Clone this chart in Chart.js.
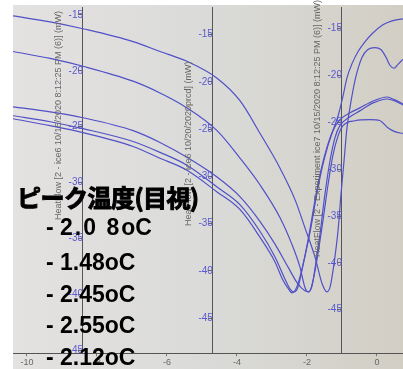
<!DOCTYPE html>
<html lang="ja">
<head>
<meta charset="UTF-8">
<title>HeatFlow</title>
<script src="https://cdn.jsdelivr.net/npm/chart.js"></script>
<style>
  html, body { margin: 0; padding: 0; background: #fff; }
  .wrap { position: relative; width: 403px; height: 369px; overflow: hidden; }
  #dsc { position: absolute; left: 0; top: 0; }
  .note { position: absolute; color: #000; white-space: nowrap; line-height: 1; }
  .head { left: 17px; top: 179px; font: 700 24px "Noto Sans CJK JP", sans-serif; letter-spacing: -0.5px; -webkit-text-stroke: 1px #000; }
  .temp { left: 46px; font: 700 23px "Liberation Sans", Arial, sans-serif; }
  .wide { letter-spacing: 2px; }
</style>
</head>
<body>
<div class="wrap">
  <canvas id="dsc" width="403" height="369"></canvas>
  <div class="note head">ピーク温度(目視)</div>
  <div class="note temp" style="top:214px">- <span class="wide">2.0 8</span>oC</div>
  <div class="note temp" style="top:249px">- 1.48oC</div>
  <div class="note temp" style="top:281px">- 2.45oC</div>
  <div class="note temp" style="top:312px">- 2.55oC</div>
  <div class="note temp" style="top:344px">- 2.12oC</div>
</div>

<script>
  // temperature (oC) and heat flow (mW, read on the right axis)
  const temp208 = [-10.4, -9.34, -8.4, -6.97, -6.2, -5.43, -4.57, -3.91, -3.34, -2.77, -2.43, -2.2, -2.06, -1.97, -1.86, -1.74, -1.63, -1.49, -1.34, -1.2, -1.06, -0.77, -0.49, -0.11, 0.29, 0.51, 0.74];
  const flow208 = [-17.43, -18.17, -19.01, -20.6, -21.86, -23.45, -25.88, -28.83, -31.68, -35.17, -38.02, -40.45, -42.6, -43.09, -42.5, -39.82, -36.96, -32.74, -29.04, -26.62, -25.35, -24.4, -23.77, -22.92, -22.5, -22.71, -23.13];

  const temp148 = [-10.4, -9.34, -8.4, -6.97, -6.2, -5.43, -4.57, -3.91, -3.34, -2.77, -2.34, -2.06, -1.77, -1.57, -1.43, -1.34, -1.23, -1.11, -1.03, -0.94, -0.86, -0.74, -0.6, -0.43, -0.26, -0.06, 0.11, 0.26, 0.37, 0.49, 0.6, 0.74];
  const flow148 = [-13.63, -14.26, -15.0, -16.37, -17.43, -18.48, -20.28, -22.71, -26.19, -29.89, -33.27, -36.23, -39.39, -42.2, -43.09, -42.56, -40.13, -36.44, -32.74, -29.04, -25.67, -22.71, -20.07, -18.06, -17.22, -17.01, -17.22, -18.06, -18.9, -19.22, -18.8, -18.27];

  const temp245 = [-10.4, -9.34, -8.4, -6.97, -6.2, -5.43, -4.57, -3.91, -3.34, -2.91, -2.63, -2.49, -2.37, -2.26, -2.09, -1.91, -1.74, -1.57, -1.4, -1.26, -1.11, -0.97, -0.86, -0.71, -0.54, -0.34, -0.14, 0.17, 0.43, 0.74];
  const flow245 = [-24.29, -24.93, -25.67, -27.04, -28.2, -29.57, -31.9, -33.8, -36.65, -39.39, -41.72, -42.77, -43.09, -42.6, -39.82, -36.65, -33.06, -29.89, -27.46, -25.88, -24.29, -22.18, -20.28, -18.7, -17.43, -16.37, -15.53, -14.58, -14.16, -13.94];

  const temp255 = [-10.4, -9.34, -8.4, -6.97, -6.2, -5.43, -4.57, -3.91, -3.34, -2.91, -2.69, -2.51, -2.43, -2.29, -2.11, -1.94, -1.77, -1.6, -1.43, -1.26, -1.06, -0.77, -0.49, -0.11, 0.29, 0.51, 0.74];
  const flow255 = [-24.61, -25.35, -26.09, -27.57, -28.83, -30.1, -32.42, -34.32, -37.28, -39.92, -41.82, -42.88, -43.2, -42.56, -40.13, -36.96, -33.27, -30.1, -27.67, -25.88, -24.71, -23.98, -23.45, -22.71, -22.29, -22.6, -23.03];

  const temp212 = [-10.4, -9.34, -8.4, -6.97, -6.2, -5.43, -4.57, -3.91, -3.34, -2.91, -2.54, -2.26, -2.06, -1.94, -1.83, -1.69, -1.54, -1.4, -1.26, -1.11, -0.97, -0.63, -0.2, 0.09, 0.31, 0.51, 0.74];
  const flow212 = [-23.34, -23.87, -24.5, -25.88, -27.14, -28.73, -30.84, -32.95, -35.59, -38.02, -40.45, -42.24, -42.98, -43.09, -41.93, -39.08, -35.38, -31.68, -28.52, -26.41, -25.35, -24.82, -24.71, -24.82, -25.56, -25.98, -26.19];

  const xTicks = [-10, -8, -6, -4, -2, 0];
  const yTicks = [-45, -40, -35, -30, -25, -20, -15];

  const axisTitles = {
    yL: 'HeatFlow [2 - ice6 10/15/2020 8:12:25 PM (6)] (mW)',
    yM: 'HeatFlow [2 - ice6 10/20/2020prcd] (mW)',
    yR: 'HeatFlow [2 - Experiment ice7 10/15/2020 8:12:25 PM (6)] (mW)'
  };

  function pts(xs, ys) {
    return xs.map((x, i) => ({ x: x, y: ys[i] }));
  }

  function curve(xs, ys) {
    return {
      data: pts(xs, ys),
      yAxisID: 'yR',
      showLine: true,
      borderColor: '#5050c8',
      borderWidth: 1.2,
      pointRadius: 0,
      cubicInterpolationMode: 'monotone'
    };
  }

  function yAxis(xPos, min, max) {
    return {
      type: 'linear',
      position: { x: xPos },
      min: min,
      max: max,
      afterBuildTicks: s => { s.ticks = yTicks.map(v => ({ value: v })); },
      ticks: { color: '#5a5ad0', font: { family: 'Liberation Sans', size: 10 }, padding: 1 },
      grid: { drawOnChartArea: false, tickLength: 4, color: '#666' },
      border: { color: '#555', width: 1 }
    };
  }

  const background = {
    id: 'background',
    beforeDraw(chart) {
      const ctx = chart.ctx;
      const g = ctx.createLinearGradient(13, 0, 403, 0);
      g.addColorStop(0, '#e4e1e1');
      g.addColorStop(0.5, '#dadbd9');
      g.addColorStop(1, '#d2cec4');
      ctx.save();
      ctx.fillStyle = g;
      ctx.fillRect(13, 5, 390, 364);
      ctx.restore();
    }
  };

  const titles = {
    id: 'titles',
    afterDraw(chart) {
      const ctx = chart.ctx;
      const bottoms = { yL: 220, yM: 226, yR: 257 };
      ctx.save();
      ctx.font = '9px "Liberation Sans"';
      ctx.fillStyle = '#666';
      ctx.textBaseline = 'middle';
      Object.keys(axisTitles).forEach(id => {
        const px = chart.scales.x.getPixelForValue(chart.options.scales[id].position.x) - 24;
        ctx.save();
        ctx.translate(px, bottoms[id]);
        ctx.rotate(-Math.PI / 2);
        ctx.fillText(axisTitles[id], 0, 0);
        ctx.restore();
      });
      ctx.restore();
    }
  };

  new Chart(document.getElementById('dsc'), {
    type: 'scatter',
    data: {
      datasets: [
        curve(temp208, flow208),
        curve(temp148, flow148),
        curve(temp245, flow245),
        curve(temp255, flow255),
        curve(temp212, flow212)
      ]
    },
    options: {
      responsive: false,
      animation: false,
      layout: { padding: { left: 13, top: 5, right: 0, bottom: 0 } },
      plugins: { legend: { display: false }, tooltip: { enabled: false } },
      scales: {
        x: {
          type: 'linear',
          position: 'bottom',
          min: -10.4,
          max: 0.743,
          afterBuildTicks: s => { s.ticks = xTicks.map(v => ({ value: v })); },
          ticks: { color: '#666', font: { family: 'Liberation Sans', size: 9 }, padding: 1 },
          grid: { drawOnChartArea: false, tickLength: 3, color: '#777' },
          border: { color: '#555', width: 1 }
        },
        yL: yAxis(-8.4, -45.27, -14.29),
        yM: yAxis(-4.69, -48.72, -12.07),
        yR: yAxis(-1.0, -49.64, -12.68)
      }
    },
    plugins: [background, titles]
  });
</script>
</body>
</html>
